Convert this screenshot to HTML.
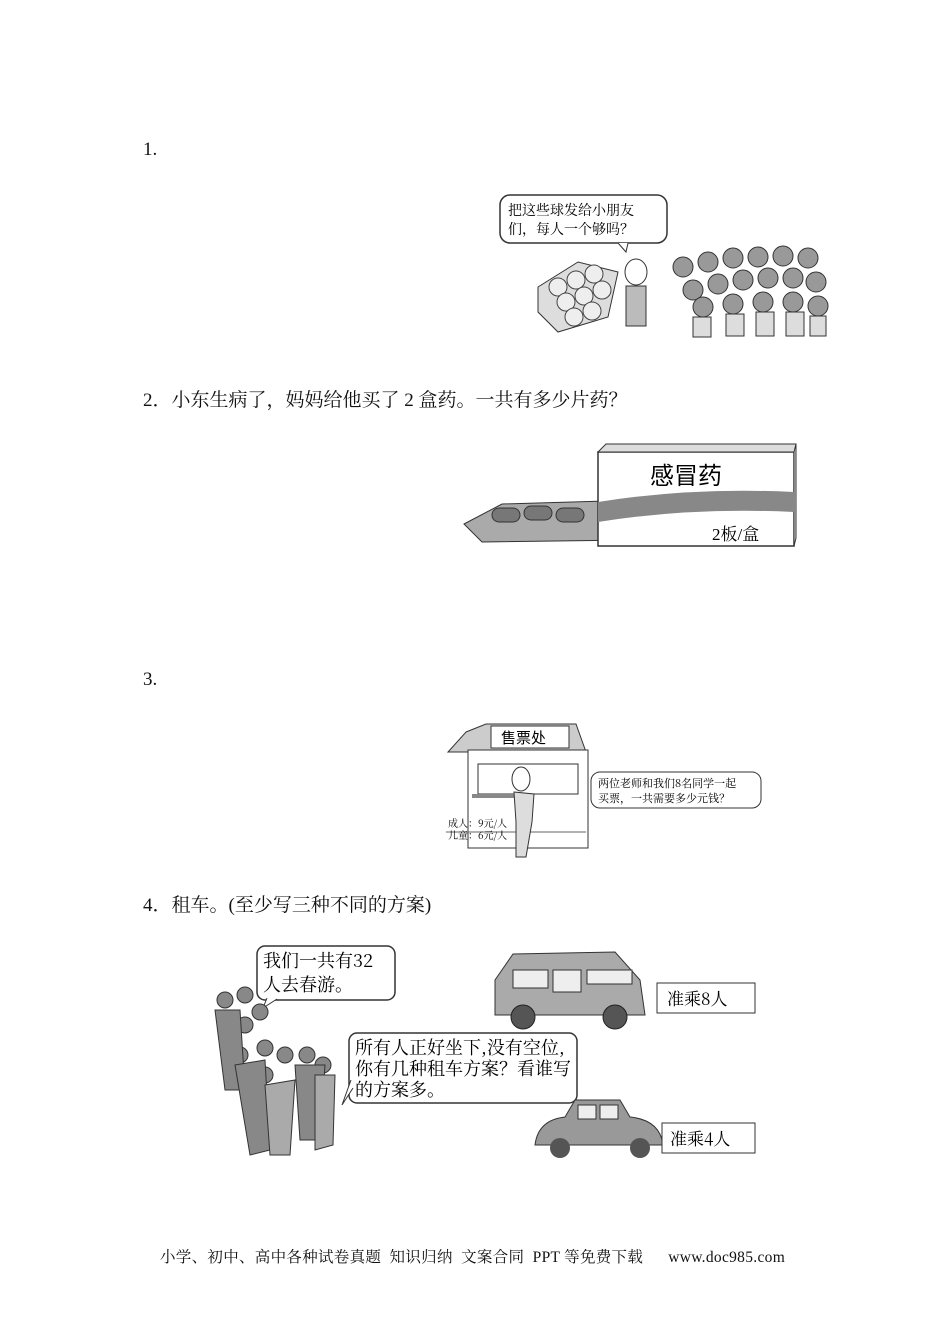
<!DOCTYPE html>
<html><head><meta charset="utf-8"><style>
body{margin:0;background:#fff;}
.p{position:relative;width:950px;height:1344px;overflow:hidden;font-family:"Liberation Serif","Noto Serif CJK SC",serif;color:#111;}
.a{position:absolute;white-space:nowrap;}
</style></head><body><div class="p">
<div class="a" style="left:143px;top:139px;font-size:19px;">1.</div>
<div class="a" style="left:143px;top:385px;font-size:19px;">2．小东生病了，妈妈给他买了 2 盒药。一共有多少片药？</div>
<div class="a" style="left:143px;top:669px;font-size:19px;">3.</div>
<div class="a" style="left:143px;top:890px;font-size:19px;">4．租车。(至少写三种不同的方案)</div>
<div class="a" style="left:160px;top:1245px;font-size:15.5px;letter-spacing:0.3px;">小学、初中、高中各种试卷真题&nbsp; 知识归纳&nbsp; 文案合同&nbsp; PPT 等免费下载&nbsp;&nbsp;&nbsp;&nbsp;&nbsp; www.doc985.com</div>

<!-- image 1 -->
<svg class="a" style="left:498px;top:192px" width="334" height="150">
<rect x="2" y="3" width="167" height="48" rx="10" fill="#fff" stroke="#333" stroke-width="1.5"/>
<path d="M120 51 L128 60 L130 51" fill="#fff" stroke="#333"/>
<text x="10" y="23" font-size="14" font-family="Noto Serif CJK SC">把这些球发给小朋友</text>
<text x="10" y="42" font-size="14" font-family="Noto Serif CJK SC">们，每人一个够吗？</text>
<path d="M40 95 L80 70 L120 80 L110 125 L60 140 L40 120Z" fill="#ddd" stroke="#333"/>
<g fill="#eee" stroke="#444"><circle cx="60" cy="95" r="9"/><circle cx="78" cy="88" r="9"/><circle cx="96" cy="82" r="9"/><circle cx="68" cy="110" r="9"/><circle cx="86" cy="104" r="9"/><circle cx="104" cy="98" r="9"/><circle cx="76" cy="125" r="9"/><circle cx="94" cy="119" r="9"/></g>
<ellipse cx="138" cy="80" rx="11" ry="13" fill="#fff" stroke="#333"/>
<rect x="128" y="94" width="20" height="40" fill="#bbb" stroke="#333"/>
<g fill="#999" stroke="#333">
<circle cx="185" cy="75" r="10"/><circle cx="210" cy="70" r="10"/><circle cx="235" cy="66" r="10"/><circle cx="260" cy="65" r="10"/><circle cx="285" cy="64" r="10"/><circle cx="310" cy="66" r="10"/>
<circle cx="195" cy="98" r="10"/><circle cx="220" cy="92" r="10"/><circle cx="245" cy="88" r="10"/><circle cx="270" cy="86" r="10"/><circle cx="295" cy="86" r="10"/><circle cx="318" cy="90" r="10"/>
<circle cx="205" cy="115" r="10"/><circle cx="235" cy="112" r="10"/><circle cx="265" cy="110" r="10"/><circle cx="295" cy="110" r="10"/><circle cx="320" cy="114" r="10"/></g>
<g fill="#ddd" stroke="#333"><rect x="195" y="125" width="18" height="20"/><rect x="228" y="122" width="18" height="22"/><rect x="258" y="120" width="18" height="24"/><rect x="288" y="120" width="18" height="24"/><rect x="312" y="124" width="16" height="20"/></g>
</svg>

<!-- image 2 -->
<svg class="a" style="left:462px;top:442px" width="338" height="108">
<path d="M2 82 L40 62 L180 58 L200 78 L170 98 L20 100Z" fill="#aaa" stroke="#333"/>
<g fill="#777" stroke="#333"><rect x="30" y="66" width="28" height="14" rx="7"/><rect x="62" y="64" width="28" height="14" rx="7"/><rect x="94" y="66" width="28" height="14" rx="7"/><rect x="140" y="72" width="28" height="14" rx="7"/></g>
<rect x="136" y="10" width="196" height="94" fill="#fff" stroke="#333" stroke-width="1.5"/>
<path d="M136 10 L144 2 L334 2 L332 10Z M332 10 L334 2 L334 96 L332 104Z" fill="#ddd" stroke="#333"/>
<path d="M136 60 Q230 45 332 50 L332 70 Q230 65 136 80Z" fill="#888"/>
<text x="188" y="42" font-size="24" font-family="Noto Sans CJK SC">感冒药</text>
<text x="250" y="98" font-size="17">2板/盒</text>
</svg>

<!-- image 3 -->
<svg class="a" style="left:446px;top:722px" width="318" height="138">
<path d="M20 10 L40 2 L130 2 L140 30 L2 30Z" fill="#ccc" stroke="#333"/>
<rect x="45" y="4" width="78" height="22" fill="#fff" stroke="#333"/>
<text x="55" y="21" font-size="15" font-family="Noto Sans CJK SC">售票处</text>
<rect x="22" y="28" width="120" height="98" fill="#fff" stroke="#333"/>
<rect x="32" y="42" width="100" height="30" fill="#fff" stroke="#333"/>
<rect x="26" y="72" width="60" height="4" fill="#888"/>
<line x1="0" y1="110" x2="140" y2="110" stroke="#666"/>
<ellipse cx="75" cy="57" rx="9" ry="12" fill="#fff" stroke="#333"/>
<path d="M68 70 L88 72 L86 100 L80 135 L70 135 L70 100Z" fill="#ddd" stroke="#333"/>
<text x="2" y="105" font-size="10" font-family="Noto Serif CJK SC">成人：9元/人</text>
<text x="2" y="117" font-size="10" font-family="Noto Serif CJK SC">儿童：6元/人</text>
<rect x="145" y="50" width="170" height="36" rx="9" fill="#fff" stroke="#333"/>
<text x="152" y="65" font-size="11" font-family="Noto Serif CJK SC">两位老师和我们8名同学一起</text>
<text x="152" y="80" font-size="11" font-family="Noto Serif CJK SC">买票，一共需要多少元钱？</text>
</svg>

<!-- image 4 -->
<svg class="a" style="left:205px;top:940px" width="556" height="228">
<rect x="52" y="6" width="138" height="54" rx="8" fill="#fff" stroke="#333" stroke-width="1.5"/>
<path d="M62 58 L58 68 L72 59" fill="#fff" stroke="#333"/>
<text x="58" y="27" font-size="18" font-family="Noto Serif CJK SC">我们一共有32</text>
<text x="58" y="51" font-size="18" font-family="Noto Serif CJK SC">人去春游。</text>
<rect x="144" y="93" width="228" height="70" rx="8" fill="#fff" stroke="#333" stroke-width="1.5"/>
<path d="M146 140 L137 165 L148 148" fill="#fff" stroke="#333"/>
<text x="150" y="114" font-size="18" font-family="Noto Serif CJK SC">所有人正好坐下,没有空位,</text>
<text x="150" y="135" font-size="18" font-family="Noto Serif CJK SC">你有几种租车方案？看谁写</text>
<text x="150" y="156" font-size="18" font-family="Noto Serif CJK SC">的方案多。</text>
<g fill="#888" stroke="#333">
<circle cx="20" cy="60" r="8"/><circle cx="40" cy="55" r="8"/><circle cx="55" cy="72" r="8"/><circle cx="40" cy="85" r="8"/><circle cx="35" cy="115" r="8"/><circle cx="60" cy="108" r="8"/><circle cx="80" cy="115" r="8"/><circle cx="102" cy="115" r="8"/><circle cx="60" cy="135" r="8"/><circle cx="118" cy="125" r="8"/>
<path d="M10 70 L35 70 L40 150 L20 150Z"/><path d="M30 125 L60 120 L65 210 L45 215Z"/><path d="M60 145 L90 140 L85 215 L65 215Z" fill="#aaa"/><path d="M90 125 L120 125 L115 200 L95 200Z"/><path d="M110 135 L130 135 L128 205 L110 210Z" fill="#aaa"/></g>
<path d="M290 40 L308 14 L410 12 L435 40 L440 75 L290 75Z" fill="#aaa" stroke="#333"/>
<rect x="308" y="30" width="35" height="18" fill="#eee" stroke="#333"/><rect x="348" y="30" width="28" height="22" fill="#eee" stroke="#333"/><rect x="382" y="30" width="45" height="14" fill="#eee" stroke="#333"/>
<circle cx="318" cy="77" r="12" fill="#555" stroke="#222"/><circle cx="410" cy="77" r="12" fill="#555" stroke="#222"/>
<rect x="452" y="43" width="98" height="30" fill="#fff" stroke="#333"/>
<text x="462" y="65" font-size="17" font-family="Noto Serif CJK SC">准乘8人</text>
<path d="M330 205 Q333 180 360 177 L370 160 L415 160 L425 177 Q455 180 458 205Z" fill="#999" stroke="#333"/>
<rect x="373" y="165" width="18" height="14" fill="#eee" stroke="#333"/><rect x="395" y="165" width="18" height="14" fill="#eee" stroke="#333"/>
<circle cx="355" cy="208" r="10" fill="#555"/><circle cx="435" cy="208" r="10" fill="#555"/>
<rect x="457" y="183" width="93" height="30" fill="#fff" stroke="#333"/>
<text x="465" y="205" font-size="17" font-family="Noto Serif CJK SC">准乘4人</text>
</svg>
</div></body></html>
